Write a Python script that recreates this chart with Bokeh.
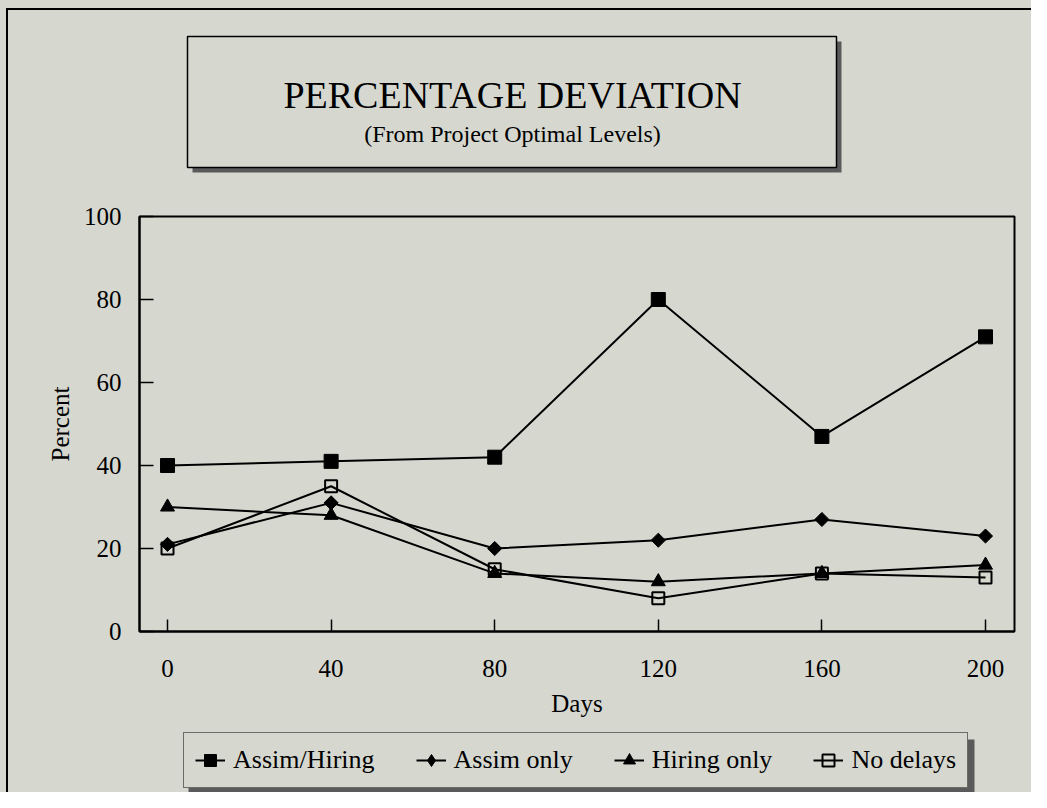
from bokeh.plotting import figure
from bokeh.models import Legend, LegendItem, FixedTicker
from bokeh.layouts import column
from bokeh.embed import file_html
from bokeh.resources import INLINE
from bokeh.core.properties import value
import numpy as np

# ---- data ----
days = [0, 40, 80, 120, 160, 200]
assim_hiring = [40, 41, 42, 80, 47, 71]
assim_only = [21, 31, 20, 22, 27, 23]
hiring_only = [30, 28, 14, 12, 14, 16]
no_delays = [20, 35, 15, 8, 14, 13]
series_names = ["Assim/Hiring", "Assim only", "Hiring only", "No delays"]
x_ticks = [0, 40, 80, 120, 160, 200]
y_ticks = [0, 20, 40, 60, 80, 100]
title_text = "PERCENTAGE DEVIATION"
subtitle_text = "(From Project Optimal Levels)"
x_label = "Days"
y_label = "Percent"

# ---- layout constants (pixels) ----
BG = "#d6d8d0"
SHADOW = "#5a5a5a"
FONT = "Liberation Serif"
W = 1031
T_H = 200          # title strip height
M_H = 520          # main chart height
B_H = 72           # legend strip height
FL, FR, FT, FB = 139, 1014, 216, 631
X0, X1 = -6.85, 207.09


def blank(height, y_range):
    # strip whose frame is horizontally aligned with the main chart frame;
    # its x data units are pixels across the page
    f = figure(width=W, height=height, x_range=(FL, FR), y_range=y_range,
               x_axis_location=None, y_axis_location=None,
               output_backend="svg", toolbar_location=None,
               min_border_left=FL, min_border_right=W - FR,
               min_border_top=0, min_border_bottom=0)
    f.background_fill_color = BG
    f.border_fill_color = BG
    f.outline_line_color = None
    f.xgrid.visible = False
    f.ygrid.visible = False
    return f


# ---- title strip ----
ft = blank(T_H, (T_H, 0))
ft.quad(left=192, right=841, top=41, bottom=172, fill_color=SHADOW, line_color=None)
ft.quad(left=187, right=836, top=36, bottom=167, fill_color=BG, line_color="black", line_width=1.5)
ft.text(x=[512], y=[94], text=[title_text], text_align="center", text_baseline="middle",
        text_font=value(FONT), text_font_size="38px", text_color="black")
ft.text(x=[512], y=[133], text=[subtitle_text], text_align="center", text_baseline="middle",
        text_font=value(FONT), text_font_size="24px", text_color="black")

# ---- main chart ----
p = figure(width=W, height=M_H, x_range=(X0, X1), y_range=(0, 100),
           output_backend="svg", toolbar_location=None,
           min_border_left=FL, min_border_right=W - FR,
           min_border_top=FT - T_H, min_border_bottom=T_H + M_H - FB)
p.background_fill_color = BG
p.border_fill_color = BG
p.outline_line_color = "black"
p.outline_line_width = 2
p.xgrid.visible = False
p.ygrid.visible = False

for ax, ticks in ((p.xaxis, x_ticks), (p.yaxis, y_ticks)):
    ax.ticker = FixedTicker(ticks=ticks)
    ax.major_tick_out = 0
    ax.minor_tick_in = 0
    ax.minor_tick_out = 0
    ax.axis_line_width = 2
    ax.axis_line_color = "black"
    ax.major_tick_line_width = 1.5
    ax.major_tick_line_color = "black"
    ax.major_label_text_font = FONT
    ax.major_label_text_font_size = "25px"
    ax.major_label_text_color = "black"
    ax.axis_label_text_font = FONT
    ax.axis_label_text_font_size = "25px"
    ax.axis_label_text_font_style = "normal"
    ax.axis_label_text_color = "black"

p.xaxis.major_tick_in = 12
p.yaxis.major_tick_in = 14
p.xaxis.axis_label = x_label
p.yaxis.axis_label = y_label
p.xaxis.major_label_standoff = 28
p.xaxis.axis_label_standoff = 10
p.yaxis.major_label_standoff = 18
p.yaxis.axis_label_standoff = 7

styles = [
    (assim_hiring, dict(marker="square", size=14, fill_color="black", line_width=1, angle=0)),
    (assim_only, dict(marker="square", size=10, fill_color="black", line_width=1, angle=np.pi / 4)),
    (hiring_only, dict(marker="triangle", size=14, fill_color="black", line_width=1, angle=0)),
    (no_delays, dict(marker="square", size=12, fill_color=None, line_width=2, angle=0)),
]
for vals, st in styles:
    p.line(days, vals, line_color="black", line_width=2)
    p.scatter(days, vals, marker=st["marker"], size=st["size"], fill_color=st["fill_color"],
              line_color="black", line_width=st["line_width"], angle=st["angle"])

# ---- legend strip ----
fb = blank(B_H, (T_H + M_H + B_H, T_H + M_H))
fb.quad(left=188, right=974, top=739, bottom=794, fill_color=SHADOW, line_color=None)
legend_markers = ["square", "diamond", "triangle", "square"]
items = []
for name, mk, (vals, st) in zip(series_names, legend_markers, styles):
    # legend proxies, placed off-screen
    rl = fb.line([0, 10], [0, 0], line_color="black", line_width=2)
    rm = fb.scatter([5], [0], marker=mk, size=st["size"], fill_color=st["fill_color"],
                    line_color="black", line_width=st["line_width"])
    items.append(LegendItem(label=name, renderers=[rl, rm]))
legend = Legend(items=items, orientation="horizontal", location=(183 - FL, T_H + M_H + B_H - 788),
                label_text_font=FONT, label_text_font_size="26px", label_text_color="black",
                glyph_width=30, glyph_height=32, label_standoff=8, spacing=41,
                padding=11, margin=0, border_line_color="black", border_line_width=1.5,
                background_fill_color=BG, background_fill_alpha=1)
fb.add_layout(legend)

css = """
:host { position: relative; background-color: %s; }
:host::before { content: ""; position: absolute; left: 6px; top: 8px; right: 0px;
                height: 2px; background: black; z-index: 50; pointer-events: none; }
:host::after { content: ""; position: absolute; left: 6px; top: 8px; bottom: 0px;
               width: 2px; background: black; z-index: 50; pointer-events: none; }
""" % BG
layout = column(ft, p, fb, spacing=0, styles={"background-color": BG}, stylesheets=[css])
open("out.html", "w").write(file_html(layout, INLINE))
